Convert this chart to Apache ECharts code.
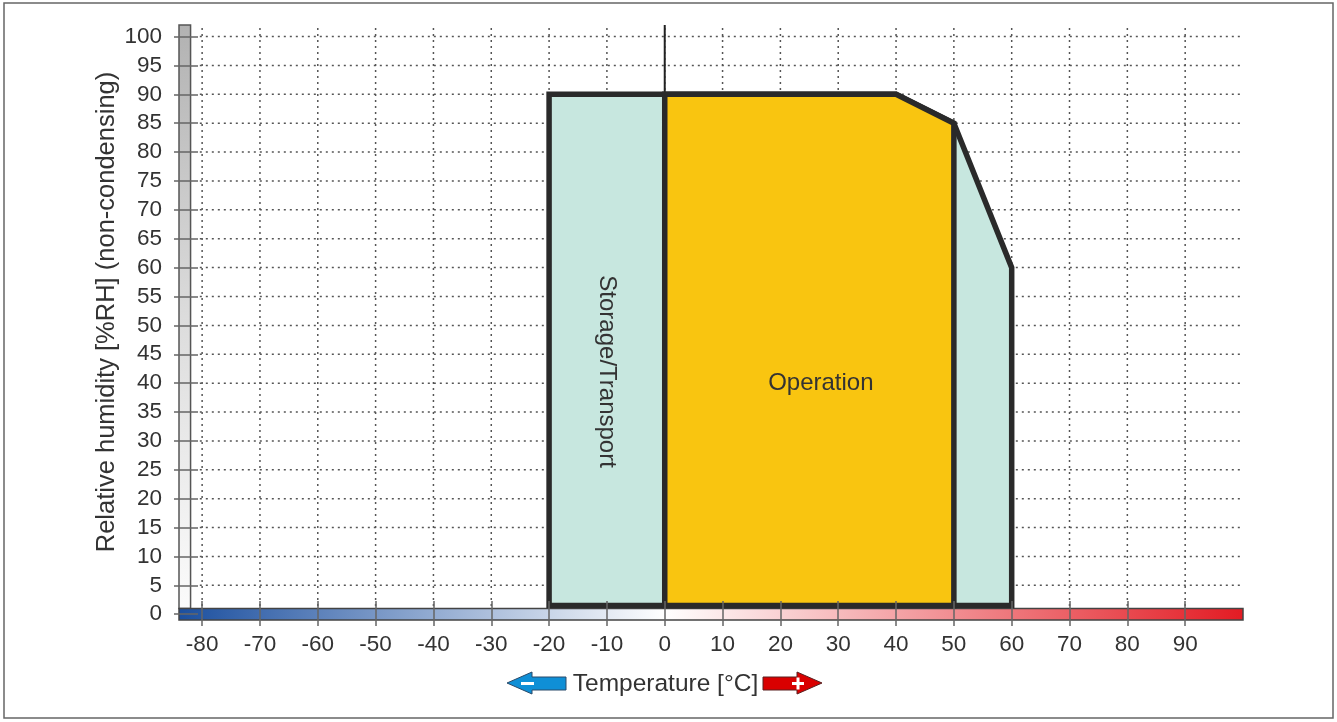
<!DOCTYPE html>
<html><head><meta charset="utf-8">
<script src="https://cdn.jsdelivr.net/npm/echarts@6/dist/echarts.min.js"></script>
<style>html,body{margin:0;padding:0;background:#fff}#c{width:1337px;height:722px}</style>
</head><body><div id="c"></div>
<script>
// ---- data ----
const xTickValues = [-80,-70,-60,-50,-40,-30,-20,-10,0,10,20,30,40,50,60,70,80,90];
const yTickValues = [0,5,10,15,20,25,30,35,40,45,50,55,60,65,70,75,80,85,90,95,100];
const storageTransport = [[-20,1.5],[-20,90],[40,90],[50,85],[60,60],[60,1.5]];
const operation = [[0,1.5],[0,90],[40,90],[50,85],[50,1.5]];
const regionNames = ['Storage/Transport','Operation'];
const xRange = [-84, 100];
const yRange = [-1, 102];
const xTitle = 'Temperature [°C]';
const yTitle = 'Relative humidity [%RH] (non-condensing)';

const FONT = 'Liberation Sans, Arial, sans-serif';
const chart = echarts.init(document.getElementById('c'), null, {renderer:'canvas'});

const gridLines = {
  type:'custom', z:1, silent:true, clip:false,
  data:[[0,0]],
  renderItem(params, api){
    const children = [];
    xTickValues.forEach(v=>{
      const a = api.coord([v, 101.5]), b = api.coord([v, 1.2]);
      children.push({type:'line', shape:{x1:a[0],y1:a[1],x2:b[0],y2:b[1]},
        style:{stroke:'#555', lineWidth:1.5, lineDash:[2,4]}});
    });
    yTickValues.filter(v=>v>0).forEach(v=>{
      const a = api.coord([-80.4, v]), b = api.coord([100, v]);
      children.push({type:'line', shape:{x1:a[0],y1:a[1],x2:b[0],y2:b[1]},
        style:{stroke:'#555', lineWidth:1.5, lineDash:[2,4]}});
    });
    const z0 = api.coord([0, 102]), z1 = api.coord([0, 1.5]);
    children.push({type:'line', shape:{x1:z0[0],y1:z0[1],x2:z1[0],y2:z1[1]},
      style:{stroke:'#222', lineWidth:2}});
    return {type:'group', children};
  }
};

const scaleBars = {
  type:'custom', z:2, silent:true, clip:false,
  data:[[0,0]],
  renderItem(params, api){
    const g1 = api.coord([xRange[0], yRange[1]]), g2 = api.coord([xRange[0]+2, 1]);
    const c1 = api.coord([xRange[0], 1]), c2 = api.coord([xRange[1], -1]);
    const zeroPos = (0 - xRange[0])/(xRange[1]-xRange[0]);
    return {type:'group', children:[
      {type:'rect', shape:{x:g1[0], y:g1[1], width:g2[0]-g1[0], height:g2[1]-g1[1]},
       style:{fill:{type:'linear',x:0,y:0,x2:0,y2:1,colorStops:[{offset:0,color:'#b2b2b2'},{offset:0.5,color:'#dcdcdc'},{offset:1,color:'#fbfbfb'}]},
              stroke:'#555', lineWidth:1.5}},
      {type:'rect', shape:{x:c1[0], y:c1[1], width:c2[0]-c1[0], height:c2[1]-c1[1]},
       style:{fill:{type:'linear',x:0,y:0,x2:1,y2:0,colorStops:[
          {offset:0,color:'#1b4f9f'},{offset:zeroPos,color:'#ffffff'},{offset:1,color:'#e31b23'}]},
              stroke:'#444', lineWidth:1.5}}
    ]};
  }
};

function regionSeries(points, fill, name, labelPos, rotate){
  return {
    type:'custom', z:3, silent:true, clip:false,
    data:[[0,0]],
    renderItem(params, api){
      const pts = points.map(p=>api.coord(p));
      const lp = api.coord(labelPos);
      return {type:'group', children:[
        {type:'polygon', shape:{points:pts},
         style:{fill:fill, stroke:'#2a2a2a', lineWidth:5.5, lineJoin:'miter'}},
        {type:'text', x:lp[0], y:lp[1], rotation:rotate,
         style:{text:name, fill:'#333', font:'24px ' + FONT, align:'center', verticalAlign:'middle'}}
      ]};
    }
  };
}

const option = {
  backgroundColor:'#fff',
  animation:false,
  grid:{left:179, right:94, top:25, bottom:102, containLabel:false},
  xAxis:{
    type:'value', min:xRange[0], max:xRange[1], offset:-19, z:10,
    axisLine:{show:false, onZero:false},
    splitLine:{show:false},
    axisTick:{show:true, customValues:xTickValues, length:25, lineStyle:{color:'#666', width:1.5}},
    axisLabel:{customValues:xTickValues, margin:32, color:'#333', fontSize:22.5, fontFamily:FONT}
  },
  yAxis:{
    type:'value', min:yRange[0], max:yRange[1], offset:-19, z:10,
    axisLine:{show:false, onZero:false},
    splitLine:{show:false},
    axisTick:{show:true, customValues:yTickValues, length:24, lineStyle:{color:'#666', width:1.5}},
    axisLabel:{customValues:yTickValues, margin:36, color:'#333', fontSize:22.5, fontFamily:FONT}
  },
  graphic:[
    {type:'rect', shape:{x:4, y:3, width:1329, height:715}, style:{fill:'none', stroke:'#666', lineWidth:1.5}, z:-1},
    {type:'text', x:107, y:312, rotation:Math.PI/2,
     style:{text:yTitle, fill:'#333', font:'25.5px '+FONT, align:'center', verticalAlign:'middle'}},
    {type:'text', x:665.5, y:684, style:{text:xTitle, fill:'#333', font:'24.5px '+FONT, align:'center', verticalAlign:'middle'}},
    {type:'polygon', shape:{points:[[507,683],[532,672],[532,677],[566,677],[566,690],[532,690],[532,694]]},
     style:{fill:'#0f8fd6', stroke:'#2a4a6a', lineWidth:1}},
    {type:'rect', shape:{x:521, y:682, width:13, height:3}, style:{fill:'#fff'}},
    {type:'polygon', shape:{points:[[822,683],[797,672],[797,677],[763,677],[763,690],[797,690],[797,694]]},
     style:{fill:'#d90000', stroke:'#5a2020', lineWidth:1}},
    {type:'rect', shape:{x:792, y:682, width:12, height:3}, style:{fill:'#fff'}},
    {type:'rect', shape:{x:796.5, y:677.5, width:3, height:12}, style:{fill:'#fff'}}
  ],
  series:[
    gridLines,
    scaleBars,
    regionSeries(storageTransport, '#c7e7df', regionNames[0], [-10, 42], -Math.PI/2),
    regionSeries(operation, '#f9c510', regionNames[1], [27, 40], 0)
  ]
};
chart.setOption(option);
</script>
</body></html>
